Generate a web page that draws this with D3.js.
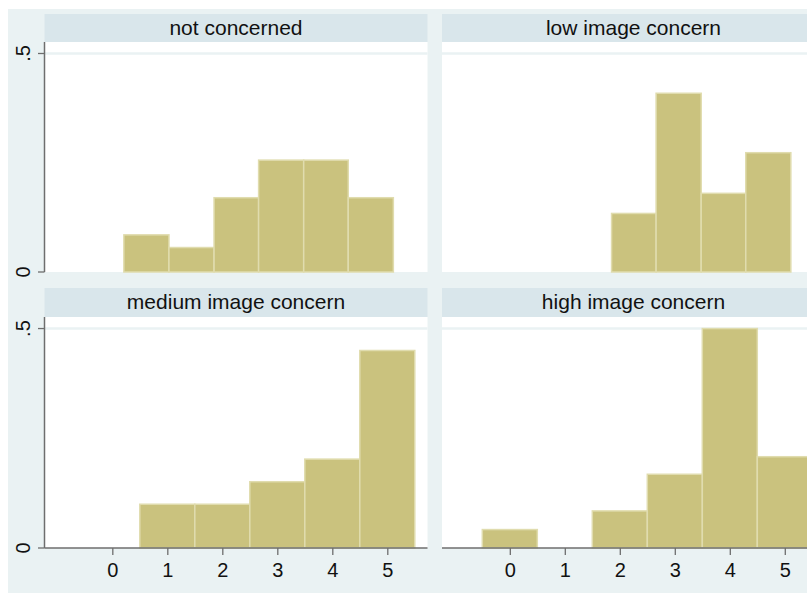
<!DOCTYPE html>
<html>
<head>
<meta charset="utf-8">
<script src="https://cdn.jsdelivr.net/npm/d3@7"></script>
<style>
  html, body { margin: 0; padding: 0; background: #ffffff; }
  svg { display: block; font-family: "Liberation Sans", Arial, sans-serif; }
</style>
</head>
<body>
<svg id="chart" width="807" height="593"></svg>
<script>
// ---- data ----
const panelTitles = ["not concerned", "low image concern", "medium image concern", "high image concern"];
const topBinEdges = [0.21, 1.03, 1.85, 2.66, 3.48, 4.29, 5.11];
const bottomBinEdges = [-0.5, 0.5, 1.5, 2.5, 3.5, 4.5, 5.5];
const notConcerned = [0.085, 0.056, 0.170, 0.256, 0.256, 0.170];
const lowConcern = [0, 0, 0.134, 0.409, 0.180, 0.273];
const mediumConcern = [0, 0.0997, 0.0997, 0.151, 0.2025, 0.450];
const highConcern = [0.042, 0, 0.0845, 0.168, 0.500, 0.208];
const xTicks = [0, 1, 2, 3, 4, 5];
const yTicks = [0, 0.5];
const yTickLabels = ["0", ".5"];

// ---- layout ----
const W = 807, H = 593;
const bg = "#eaf2f3", headerBg = "#d9e6eb", barFill = "#cac27e", barStroke = "#e0dcae";
const axisColor = "#6e6e6e";
const colX = [44.5, 442];
const panelW = 383;
const rows = [
  { headerTop: 14, plotTop: 42, plotBottom: 272, xAxis: false },
  { headerTop: 288, plotTop: 317, plotBottom: 548, xAxis: true }
];
const panels = [
  { title: panelTitles[0], values: notConcerned, edges: topBinEdges, row: 0, col: 0 },
  { title: panelTitles[1], values: lowConcern, edges: topBinEdges, row: 0, col: 1 },
  { title: panelTitles[2], values: mediumConcern, edges: bottomBinEdges, row: 1, col: 0 },
  { title: panelTitles[3], values: highConcern, edges: bottomBinEdges, row: 1, col: 1 }
];

const svg = d3.select("#chart");
svg.append("rect").attr("x", 8).attr("y", 9).attr("width", W - 8).attr("height", H - 9).attr("fill", bg);

const x = d3.scaleLinear().domain([-1.233, 5.731]).range([0, panelW]);

panels.forEach(p => {
  const r = rows[p.row];
  const x0 = colX[p.col];
  const g = svg.append("g").attr("transform", `translate(${x0},0)`);
  const y = d3.scaleLinear().domain([0, 0.5263]).range([r.plotBottom, r.plotTop]);

  // header
  g.append("rect").attr("x", 0).attr("y", r.headerTop).attr("width", panelW).attr("height", r.plotTop - r.headerTop).attr("fill", headerBg);
  g.append("text").attr("x", panelW / 2).attr("y", (r.headerTop + r.plotTop) / 2 + 6.5)
    .attr("text-anchor", "middle").attr("font-size", 21).attr("fill", "#111").text(p.title);

  // plot region
  g.append("rect").attr("x", 0).attr("y", r.plotTop).attr("width", panelW).attr("height", r.plotBottom - r.plotTop).attr("fill", "#ffffff");

  // grid line at .5
  g.append("line").attr("x1", 0).attr("x2", panelW).attr("y1", y(0.5)).attr("y2", y(0.5))
    .attr("stroke", bg).attr("stroke-width", 2.5);

  // bars
  const bins = p.values.map((v, i) => ({ v, a: p.edges[i], b: p.edges[i + 1] })).filter(d => d.v > 0);
  g.selectAll("rect.bar").data(bins).enter().append("rect").attr("class", "bar")
    .attr("x", d => x(d.a)).attr("width", d => x(d.b) - x(d.a))
    .attr("y", d => y(d.v)).attr("height", d => y(0) - y(d.v))
    .attr("fill", barFill).attr("stroke", barStroke).attr("stroke-width", 1.5);

  // y axis on left column
  if (p.col === 0) {
    const ya = g.append("g");
    ya.append("line").attr("x1", 0).attr("x2", 0).attr("y1", r.plotTop).attr("y2", r.plotBottom)
      .attr("stroke", axisColor).attr("stroke-width", 1.5);
    yTicks.forEach((t, i) => {
      ya.append("line").attr("x1", -6.5).attr("x2", 0).attr("y1", y(t)).attr("y2", y(t))
        .attr("stroke", axisColor).attr("stroke-width", 1.3);
      ya.append("text").attr("transform", `translate(${-14.5},${y(t)}) rotate(-90)`)
        .attr("text-anchor", "middle").attr("font-size", 20).attr("fill", "#111").text(yTickLabels[i]);
    });
  }

  // x axis on bottom row
  if (r.xAxis) {
    const xa = g.append("g").attr("transform", `translate(0,${r.plotBottom})`);
    const axis = d3.axisBottom(x).tickValues(xTicks).tickSize(7).tickPadding(8).tickFormat(d3.format("d"));
    xa.call(axis);
    xa.select(".domain").attr("stroke", axisColor).attr("stroke-width", 1.5).attr("d", `M0,0H${panelW}`);
    xa.selectAll(".tick line").attr("stroke", axisColor).attr("stroke-width", 1.3);
    xa.selectAll(".tick text").attr("font-size", 20).attr("fill", "#111").attr("font-family", "Liberation Sans, Arial, sans-serif");
  }
});
</script>
</body>
</html>
